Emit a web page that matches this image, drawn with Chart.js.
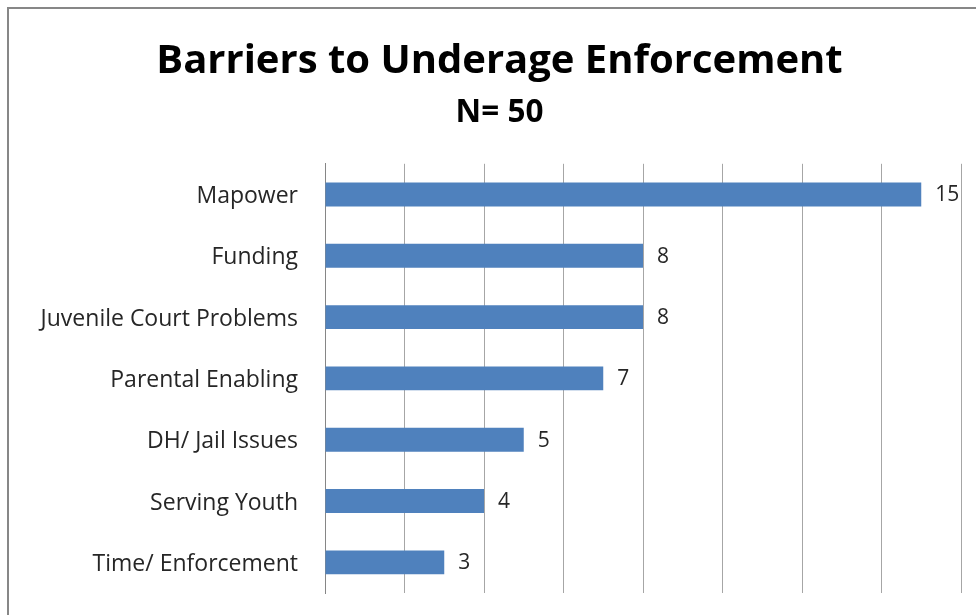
<!DOCTYPE html>
<html>
<head>
<meta charset="utf-8">
<script src="https://cdn.jsdelivr.net/npm/chart.js@4/dist/chart.umd.min.js"></script>
<style>
  html, body { margin: 0; padding: 0; background: #fff; overflow: hidden; }
  #wrap { position: relative; width: 976px; height: 615px; }
  #frame { position: absolute; left: 7px; top: 7px; width: 1000px; height: 700px; border: 2px solid #878787; box-sizing: border-box; }
  canvas { position: absolute; left: 0; top: 0; }
</style>
</head>
<body>
<div id="wrap">
  <div id="frame"></div>
  <canvas id="chart" width="976" height="615"></canvas>
</div>
<script>
  const categories = ["Mapower", "Funding", "Juvenile Court Problems", "Parental Enabling", "DH/ Jail Issues", "Serving Youth", "Time/ Enforcement"];
  const counts = [15, 8, 8, 7, 5, 4, 3];
  const titleText = "Barriers to Underage Enforcement";
  const subtitleText = "N= 50";

  const fontFamily = "'Open Sans', 'Noto Sans', sans-serif";

  // value labels just past the end of each bar
  const barLabels = {
    id: "barLabels",
    afterDatasetsDraw(chart) {
      const ctx = chart.ctx;
      const meta = chart.getDatasetMeta(0);
      ctx.save();
      ctx.font = "21px " + fontFamily;
      ctx.fillStyle = "#262626";
      ctx.textAlign = "left";
      ctx.textBaseline = "middle";
      meta.data.forEach((bar, i) => {
        ctx.fillText(String(counts[i]), bar.x + 14, bar.y + 1);
      });
      ctx.restore();
    }
  };

  new Chart(document.getElementById("chart"), {
    type: "bar",
    data: {
      labels: categories,
      datasets: [{
        data: counts,
        backgroundColor: "#4f81bd",
        borderWidth: 0,
        barPercentage: 0.39,
        categoryPercentage: 1
      }]
    },
    plugins: [barLabels],
    options: {
      indexAxis: "y",
      responsive: false,
      animation: false,
      layout: { padding: { left: 38, right: 15, top: 0, bottom: 22 } },
      plugins: {
        legend: { display: false },
        tooltip: { enabled: false },
        title: {
          display: true,
          text: titleText,
          color: "#000",
          font: { family: fontFamily, size: 40, weight: "bold" },
          padding: { top: 38, bottom: 0 }
        },
        subtitle: {
          display: true,
          text: subtitleText,
          color: "#000",
          font: { family: fontFamily, size: 31.5, weight: "bold" },
          padding: { top: 8, bottom: 32 }
        }
      },
      scales: {
        x: {
          min: 0,
          max: 16,
          ticks: { stepSize: 2, display: false },
          grid: { color: "#a6a6a6", lineWidth: 1, drawTicks: false },
          border: { display: false },
          afterFit(scale) { scale.height = 0; }
        },
        y: {
          ticks: {
            color: "#262626",
            font: { family: fontFamily, size: 23 },
            padding: 27,
            labelOffset: 2
          },
          grid: { display: false, drawTicks: false },
          border: { display: true, color: "#868686", width: 1 },
          afterFit(scale) {
            scale.width = 287;
            scale.paddingTop = 0;
            scale.paddingBottom = 0;
          }
        }
      }
    }
  });
</script>
</body>
</html>
